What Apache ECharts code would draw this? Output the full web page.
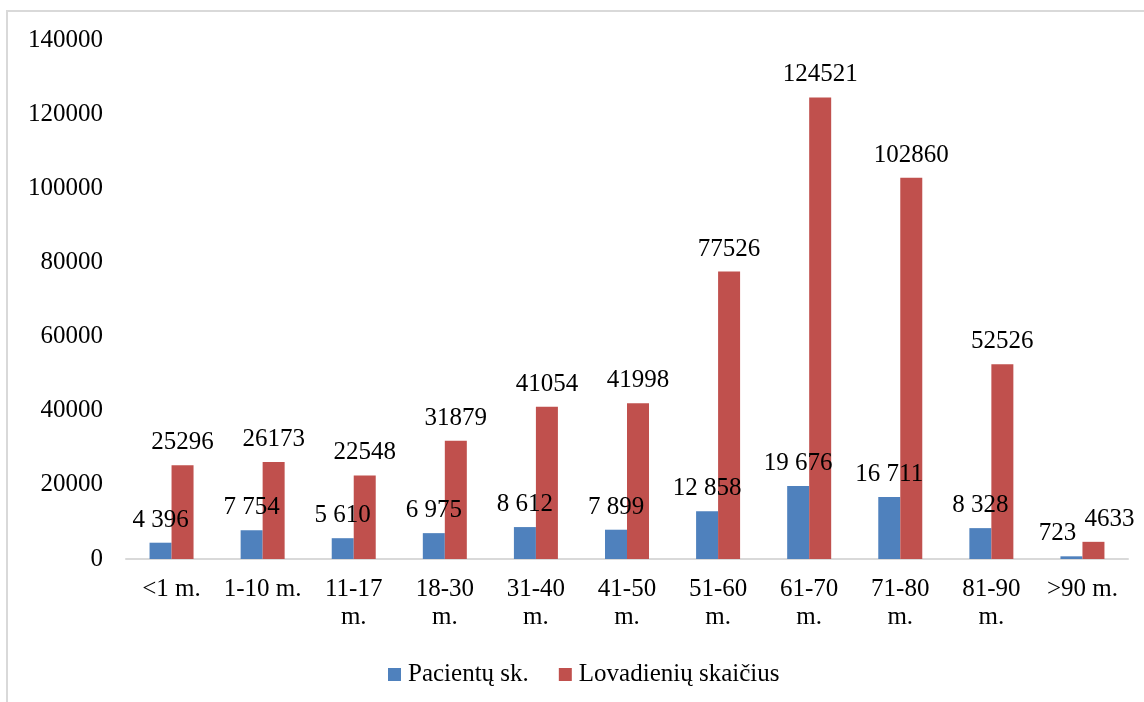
<!DOCTYPE html>
<html><head><meta charset="utf-8">
<script src="https://cdn.jsdelivr.net/npm/echarts@6/dist/echarts.min.js"></script>
<style>html,body{margin:0;padding:0;background:#fff}#c{width:1144px;height:702px}</style>
</head><body><div id="c"></div>
<script>
var categories = ['<1 m.', '1-10 m.', '11-17 m.', '18-30 m.', '31-40 m.', '41-50 m.', '51-60 m.', '61-70 m.', '71-80 m.', '81-90 m.', '>90 m.'];
var patients = [4396, 7754, 5610, 6975, 8612, 7899, 12858, 19676, 16711, 8328, 723];
var bedDays = [25296, 26173, 22548, 31879, 41054, 41998, 77526, 124521, 102860, 52526, 4633];
var seriesNames = ['Pacientų sk.', 'Lovadienių skaičius'];
var yTicks = [0, 20000, 40000, 60000, 80000, 100000, 120000, 140000];

var FONT = 'Liberation Serif';
var FS = 25;
var chart = echarts.init(document.getElementById('c'));
function spaced(v){ return String(v).replace(/\B(?=(\d{3})+(?!\d))/g, ' '); }
// Excel nudges the two labels of the last, very short pair apart so they do not overlap
function withLabelShift(values, shiftLast){
  return values.map(function(v, i){
    return i === values.length - 1 ? {value: v, label: {offset: [shiftLast, 0]}} : v;
  });
}
chart.setOption({
  animation: false,
  textStyle: {fontFamily: FONT},
  graphic: [{type:'rect', shape:{x:7, y:11, width:1300, height:900}, style:{fill:'none', stroke:'#d9d9d9', lineWidth:2}, silent:true}],
  grid: {left:126, right:16, top:40, bottom:143},
  legend: {
    left: 383, top: 657, itemWidth: 13, itemHeight: 13, itemGap: 30,
    icon: 'rect',
    textStyle: {fontFamily: FONT, fontSize: FS, color: '#000', padding:[0,0,0,2]},
    data: seriesNames
  },
  xAxis: {
    type: 'category', data: categories,
    axisLine: {lineStyle: {color: '#d9d9d9', width: 2}},
    axisTick: {show: false},
    axisLabel: {
      interval: 0, margin: 16, color: '#000', fontFamily: FONT, fontSize: FS, lineHeight: 28,
      formatter: function(v){ return v.length > 7 ? v.replace(' ', '\n') : v; }
    }
  },
  yAxis: {
    type: 'value', min: yTicks[0], max: yTicks[yTicks.length-1], interval: 20000,
    axisLine: {show:false}, axisTick:{show:false}, splitLine:{show:false},
    axisLabel: {margin: 23, color:'#000', fontFamily: FONT, fontSize: FS, formatter: function(v){ return String(v); }}
  },
  series: [
    {name: seriesNames[0], type:'bar', data: withLabelShift(patients, -14), barWidth: 22, barGap: '0%',
     itemStyle: {color:'#4F81BD'},
     label: {show:true, position:'top', distance: 10, color:'#000', fontFamily: FONT, fontSize: FS,
             formatter: function(p){ return spaced(p.value); }}},
    {name: seriesNames[1], type:'bar', data: withLabelShift(bedDays, 16), barWidth: 22,
     itemStyle: {color:'#C0504D'},
     label: {show:true, position:'top', distance: 10, color:'#000', fontFamily: FONT, fontSize: FS}}
  ]
});
</script></body></html>
